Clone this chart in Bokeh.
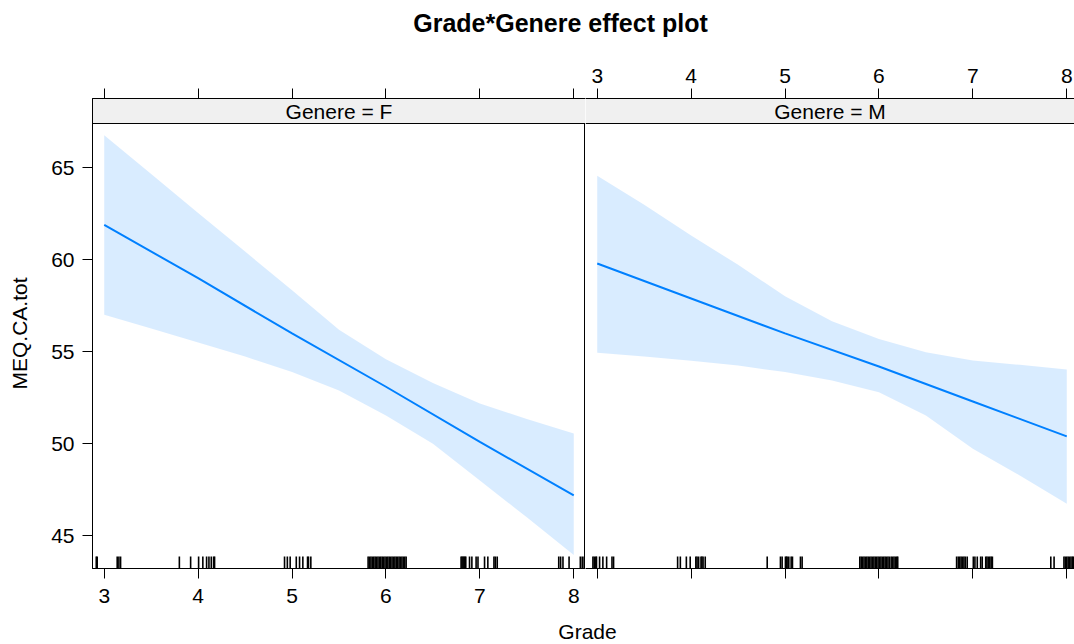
from bokeh.plotting import figure
from bokeh.models import Range1d, LinearAxis, FixedTicker
from bokeh.layouts import column, row
from bokeh.embed import file_html
from bokeh.resources import INLINE

# ---------------- data ----------------
title_text = "Grade*Genere effect plot"
x_label = "Grade"
y_label = "MEQ.CA.tot"
panel_labels = ["Genere = F", "Genere = M"]

x_ticks = [3, 4, 5, 6, 7, 8]
y_ticks = [45, 50, 55, 60, 65]

grade_fit = [3, 4, 5, 6, 7, 8]
fit_F = [61.9, 59.0, 56.0, 53.1, 50.1, 47.2]
fit_M = [59.8, 57.9, 56.0, 54.2, 52.3, 50.4]

grade_band = [3, 3.5, 4, 4.5, 5, 5.5, 6, 6.5, 7, 7.5, 8]
upper_F = [66.77, 64.66, 62.55, 60.45, 58.35, 56.2, 54.6, 53.3, 52.19, 51.35, 50.56]
lower_F = [57.01, 56.27, 55.5, 54.74, 53.9, 52.9, 51.54, 50.0, 48.0, 46.0, 43.96]
upper_M = [64.57, 62.99, 61.32, 59.73, 58.02, 56.66, 55.7, 54.98, 54.53, 54.29, 54.04]
lower_M = [54.95, 54.74, 54.52, 54.25, 53.9, 53.44, 52.8, 51.54, 49.73, 48.28, 46.74]

rug_F = [2.915, 2.925, 3.138, 3.156, 3.174, 3.80, 3.92, 4.005, 4.05, 4.09, 4.115,
         4.14, 4.165, 4.175, 4.92, 4.95, 4.98, 5.045, 5.08, 5.115, 5.165, 5.175, 5.20,
         5.810, 5.825, 5.840, 5.855, 5.870, 5.885, 5.900, 5.915, 5.930, 5.945, 5.960,
         5.975, 5.990, 6.005, 6.020, 6.035, 6.050, 6.065, 6.080, 6.095, 6.110, 6.125,
         6.140, 6.155, 6.170, 6.185, 6.200, 6.215,
         6.80, 6.81, 6.82, 6.83, 6.84, 6.85, 6.89, 6.915, 6.96, 6.98, 7.05, 7.085,
         7.15, 7.165, 7.185, 7.84, 7.86, 7.885, 7.95, 8.07, 8.09, 8.11, 8.12]
rug_M = [2.954, 2.968, 2.985, 2.992, 3.025, 3.06, 3.10, 3.157, 3.174, 3.856, 3.885,
         3.949, 3.99, 4.05, 4.063, 4.08, 4.105, 4.115, 4.127, 4.15, 4.81, 4.951, 4.969,
         5.004, 5.015, 5.022, 5.04, 5.065, 5.079, 5.164, 5.182,
         5.796, 5.811, 5.826, 5.841, 5.856, 5.871, 5.886, 5.901, 5.916, 5.931, 5.946,
         5.961, 5.976, 5.991, 6.006, 6.021, 6.036, 6.051, 6.066, 6.081, 6.096, 6.111,
         6.13, 6.145, 6.16, 6.175, 6.19, 6.20,
         6.827, 6.845, 6.86, 6.875, 6.89, 6.905, 6.92, 6.94, 7.005, 7.022, 7.047,
         7.083, 7.10, 7.137, 7.15, 7.165, 7.18, 7.195, 7.208, 7.83, 7.865,
         7.97, 7.985, 8.00, 8.015, 8.03, 8.045, 8.06, 8.07]

# ---------------- style ----------------
FONT = "Liberation Sans"
FS = "21px"
LINE_COLOR = "#0080ff"
STRIP_COLOR = "#f0f0f0"

W = 1074
TOP_H = 45
MAIN_H = 570
BOT_H = 644 - TOP_H - MAIN_H
FRAME_H = 470
STRIP_H = 25
BORDER_TOP = 53
LEFT_BORDER = 92
LEFT_W = 585
RIGHT_W = W - LEFT_W
X0, X1 = 2.875, 8.125
Y0, Y1 = 43.22, 68.77


def style_axis(ax, ticks, show_labels, standoff):
    ax.ticker = FixedTicker(ticks=ticks)
    ax.major_tick_out = 10
    ax.major_tick_in = 0
    ax.minor_tick_out = 0
    ax.minor_tick_in = 0
    ax.axis_line_color = "black"
    ax.major_tick_line_color = "black"
    ax.major_label_text_font = FONT
    ax.major_label_text_font_size = FS
    ax.major_label_text_color = "black"
    ax.major_label_standoff = standoff
    if not show_labels:
        ax.major_label_overrides = {t: "" for t in ticks}


def make_panel(idx, upper, lower, fit, rug):
    left = idx == 0
    width = LEFT_W if left else RIGHT_W
    frame_w = width - (LEFT_BORDER if left else 0)
    x_end = X0 + (X1 - X0) * frame_w / (LEFT_W - LEFT_BORDER)
    p = figure(width=width, height=MAIN_H, x_range=Range1d(X0, x_end),
               y_range=Range1d(Y0, Y1), toolbar_location=None, output_backend="svg",
               x_axis_location="below", y_axis_location="left" if left else None,
               min_border_left=LEFT_BORDER if left else 0, min_border_right=0,
               min_border_top=BORDER_TOP, min_border_bottom=MAIN_H - BORDER_TOP - FRAME_H)
    p.grid.visible = False
    p.outline_line_color = "black" if left else None
    p.background_fill_color = "white"
    p.border_fill_color = "white"
    p.extra_x_ranges = {"px": Range1d(0, frame_w)}
    p.extra_y_ranges = {"py": Range1d(0, FRAME_H)}

    # axes
    style_axis(p.xaxis[0], x_ticks, left, 10)
    top = LinearAxis()
    p.add_layout(top, "above")
    style_axis(top, x_ticks, not left, 6)
    if left:
        style_axis(p.yaxis[0], y_ticks, True, 8)
        p.yaxis[0].axis_label = y_label
        p.yaxis[0].axis_label_text_font = FONT
        p.yaxis[0].axis_label_text_font_size = FS
        p.yaxis[0].axis_label_text_font_style = "normal"
        p.yaxis[0].axis_label_text_color = "black"
        p.yaxis[0].axis_label_standoff = 17

    # confidence band and effect line
    p.varea(x=grade_band, y1=lower, y2=upper, fill_color=LINE_COLOR, fill_alpha=0.15)
    p.line(x=grade_fit, y=fit, line_color=LINE_COLOR, line_width=2)

    # strip
    p.quad(left=[0], right=[frame_w], bottom=[FRAME_H - STRIP_H], top=[FRAME_H],
           x_range_name="px", y_range_name="py", fill_color=STRIP_COLOR, line_color=None)
    p.segment(x0=[0], y0=[FRAME_H - STRIP_H], x1=[frame_w], y1=[FRAME_H - STRIP_H],
              x_range_name="px", y_range_name="py", line_color="black", line_width=1)
    p.text(x=[frame_w / 2], y=[FRAME_H - STRIP_H / 2], text=[panel_labels[idx]],
           x_range_name="px", y_range_name="py", text_align="center",
           text_baseline="middle", text_font={"value": FONT}, text_font_size=FS,
           text_color="black")

    # rug
    p.segment(x0=rug, y0=[0] * len(rug), x1=rug, y1=[12] * len(rug),
              y_range_name="py", line_color="black", line_width=1.6)
    return p


left_p = make_panel(0, upper_F, lower_F, fit_F, rug_F)
right_p = make_panel(1, upper_M, lower_M, fit_M, rug_M)


def text_strip(height, text, x, y, size, style):
    f = figure(width=W, height=height, x_range=Range1d(0, W), y_range=Range1d(0, height),
               toolbar_location=None, output_backend="svg", x_axis_location=None,
               y_axis_location=None, min_border=0)
    f.grid.visible = False
    f.outline_line_color = None
    f.text(x=[x], y=[y], text=[text], text_align="center", text_baseline="alphabetic",
           text_font={"value": FONT}, text_font_size=size, text_font_style=style,
           text_color="black")
    return f


title_fig = text_strip(TOP_H, title_text, 560, 23, "25px", "bold")
xlabel_fig = text_strip(BOT_H, x_label, 587, 13, FS, "normal")

layout = column(title_fig, row(left_p, right_p), xlabel_fig)
open("out.html", "w").write(file_html(layout, INLINE))
